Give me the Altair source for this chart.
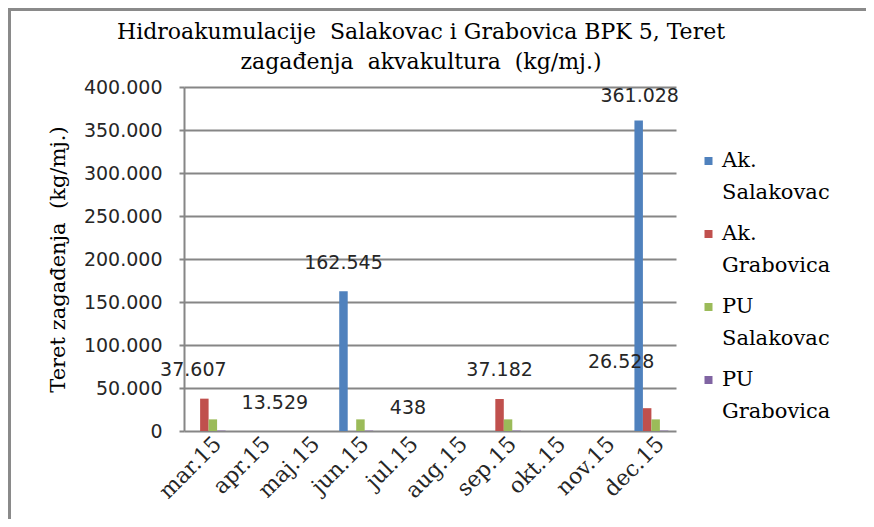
import altair as alt
import pandas as pd

# ---------------- data ----------------
months = ["mar.15", "apr.15", "maj.15", "jun.15", "jul.15",
          "aug.15", "sep.15", "okt.15", "nov.15", "dec.15"]
series = ["Ak. Salakovac", "Ak. Grabovica", "PU Salakovac", "PU Grabovica"]

ak_salakovac = [0, 0, 0, 162545, 0, 0, 0, 0, 0, 361028]
ak_grabovica = [37607, 0, 0, 0, 0, 0, 37182, 0, 0, 26528]
pu_salakovac = [13529, 0, 0, 13529, 0, 0, 13529, 0, 0, 13529]
pu_grabovica = [438, 0, 0, 438, 0, 0, 438, 0, 0, 438]

y_ticks = [0, 50000, 100000, 150000, 200000, 250000, 300000, 350000, 400000]

# which bars carry a data label
label_months = ["mar.15", "mar.15", "jun.15", "jun.15", "sep.15", "dec.15", "dec.15"]
label_series = ["Ak. Grabovica", "PU Salakovac", "Ak. Salakovac", "PU Grabovica",
                "Ak. Grabovica", "Ak. Grabovica", "Ak. Salakovac"]

legend_line1 = ["Ak.", "Ak.", "PU", "PU"]
legend_line2 = ["Salakovac", "Grabovica", "Salakovac", "Grabovica"]

title_lines = ["Hidroakumulacije\u00a0 Salakovac i Grabovica BPK 5, Teret",
               "zagađenja\u00a0 akvakultura\u00a0 (kg/mj.)"]
y_title = "Teret zagađenja\u00a0 (kg/mj.)"

# ---------------- style / layout ----------------
colors = ["#4F81BD", "#C0504D", "#9BBB59", "#8064A2"]
LABEL_SHIFT = [(-11, -29), (62, -16), (0, -28), (39, -23), (0, -29), (-26, -46), (1, -25)]
W, H = 492, 344
GRAY = "#868686"
TXT = "#262626"
SERIF = "DejaVu Serif"
SANS = "DejaVu Sans"

values_by_series = dict(zip(series, [ak_salakovac, ak_grabovica, pu_salakovac, pu_grabovica]))
df = pd.DataFrame([
    {"month": m, "series": s, "value": values_by_series[s][i]}
    for s in series for i, m in enumerate(months)
])
lab_df = pd.DataFrame([
    {"idx": k, "month": m, "series": s, "value": values_by_series[s][months.index(m)]}
    for k, (m, s) in enumerate(zip(label_months, label_series))
])
leg_df = pd.DataFrame({"idx": list(range(len(series))), "series": series,
                       "line1": legend_line1, "line2": legend_line2})
title_df = pd.DataFrame({"idx": [0, 1], "text": title_lines})

yscale = alt.Scale(domain=[0, 400000], nice=False)
xscale = alt.Scale(domain=months, paddingInner=0.31, paddingOuter=0.155)
offscale = alt.Scale(domain=series, paddingInner=0, paddingOuter=0)
cscale = alt.Scale(domain=series, range=colors)
fmt = "replace(format(datum.value, ',.0f'), ',', '.')"

bars = alt.Chart(df).mark_bar().encode(
    x=alt.X("month:N", scale=xscale, sort=months,
            axis=alt.Axis(title=None, labelAngle=-45, labelAlign="right", labelBaseline="middle",
                          labelFont=SERIF, labelFontSize=22, labelColor=TXT,
                          labelOffset=9, labelPadding=9, ticks=False, domain=False, grid=False)),
    xOffset=alt.XOffset("series:N", scale=offscale, sort=series),
    y=alt.Y("value:Q", scale=yscale,
            axis=alt.Axis(values=y_ticks, labelExpr=fmt, title=y_title,
                          titleFont=SERIF, titleFontSize=21, titleFontWeight="normal",
                          titleColor="black", titleAngle=-90, titleX=-126, titleY=172,
                          titleAlign="center", titleBaseline="middle",
                          labelFont=SANS, labelFontSize=19, labelColor=TXT, labelPadding=17,
                          tickSize=5, tickColor=GRAY, tickWidth=2,
                          domainColor=GRAY, domainWidth=2, gridColor=GRAY, gridWidth=2)),
    color=alt.Color("series:N", scale=cscale, legend=None),
)

layers = [bars]
for k, (dx, dy) in enumerate(LABEL_SHIFT):
    layers.append(
        alt.Chart(lab_df).transform_filter(alt.datum.idx == k)
        .transform_calculate(txt="replace(format(datum.value, ',.0f'), ',', '.')")
        .mark_text(font=SANS, fontSize=19, color=TXT, dx=dx, dy=dy,
                   align="center", baseline="middle")
        .encode(x=alt.X("month:N", scale=xscale, sort=months),
                xOffset=alt.XOffset("series:N", scale=offscale, sort=series),
                y=alt.Y("value:Q", scale=yscale, axis=None),
                text="txt:N")
    )

# legend (drawn by hand so that the symbol sits on the first line of a two-line label)
leg_y = alt.Y("idx:Q", scale=alt.Scale(domain=[0, 3], range=[74, 293]), axis=None)
layers.append(alt.Chart(leg_df).mark_square(size=64, opacity=1).encode(
    x=alt.value(524.5), y=leg_y, color=alt.Color("series:N", scale=cscale, legend=None)))
layers.append(alt.Chart(leg_df).mark_text(align="left", baseline="middle", font=SERIF,
                                          fontSize=21, color="black").encode(
    x=alt.value(538), y=leg_y, text="line1:N"))
layers.append(alt.Chart(leg_df).mark_text(align="left", baseline="middle", font=SERIF,
                                          fontSize=21, color="black", dy=32).encode(
    x=alt.value(538), y=leg_y, text="line2:N"))

# chart title, two centred lines
layers.append(alt.Chart(title_df).mark_text(align="center", baseline="middle", font=SERIF,
                                            fontSize=22, color="black").encode(
    x=alt.value(237), y=alt.Y("idx:Q", scale=alt.Scale(domain=[0, 1], range=[-55, -25]), axis=None),
    text="text:N"))

one = pd.DataFrame({"a": [0]})
layers.append(alt.Chart(one).mark_rule(color="#8a8a8a", strokeWidth=3).encode(
    x=alt.value(-174.5), y=alt.value(-80), y2=alt.value(460)))
layers.append(alt.Chart(one).mark_rule(color="#8a8a8a", strokeWidth=3).encode(
    x=alt.value(-176), x2=alt.value(700), y=alt.value(-77.5)))

chart = alt.layer(*layers).resolve_scale(y="independent").properties(
    width=W, height=H,
    autosize=alt.AutoSizeParams(type="none"),
    padding={"left": 176, "top": 79, "right": 190, "bottom": 88},
).configure(background="white").configure_view(stroke=None)

chart.save("out.html", embed_options={"renderer": "svg", "actions": False})
